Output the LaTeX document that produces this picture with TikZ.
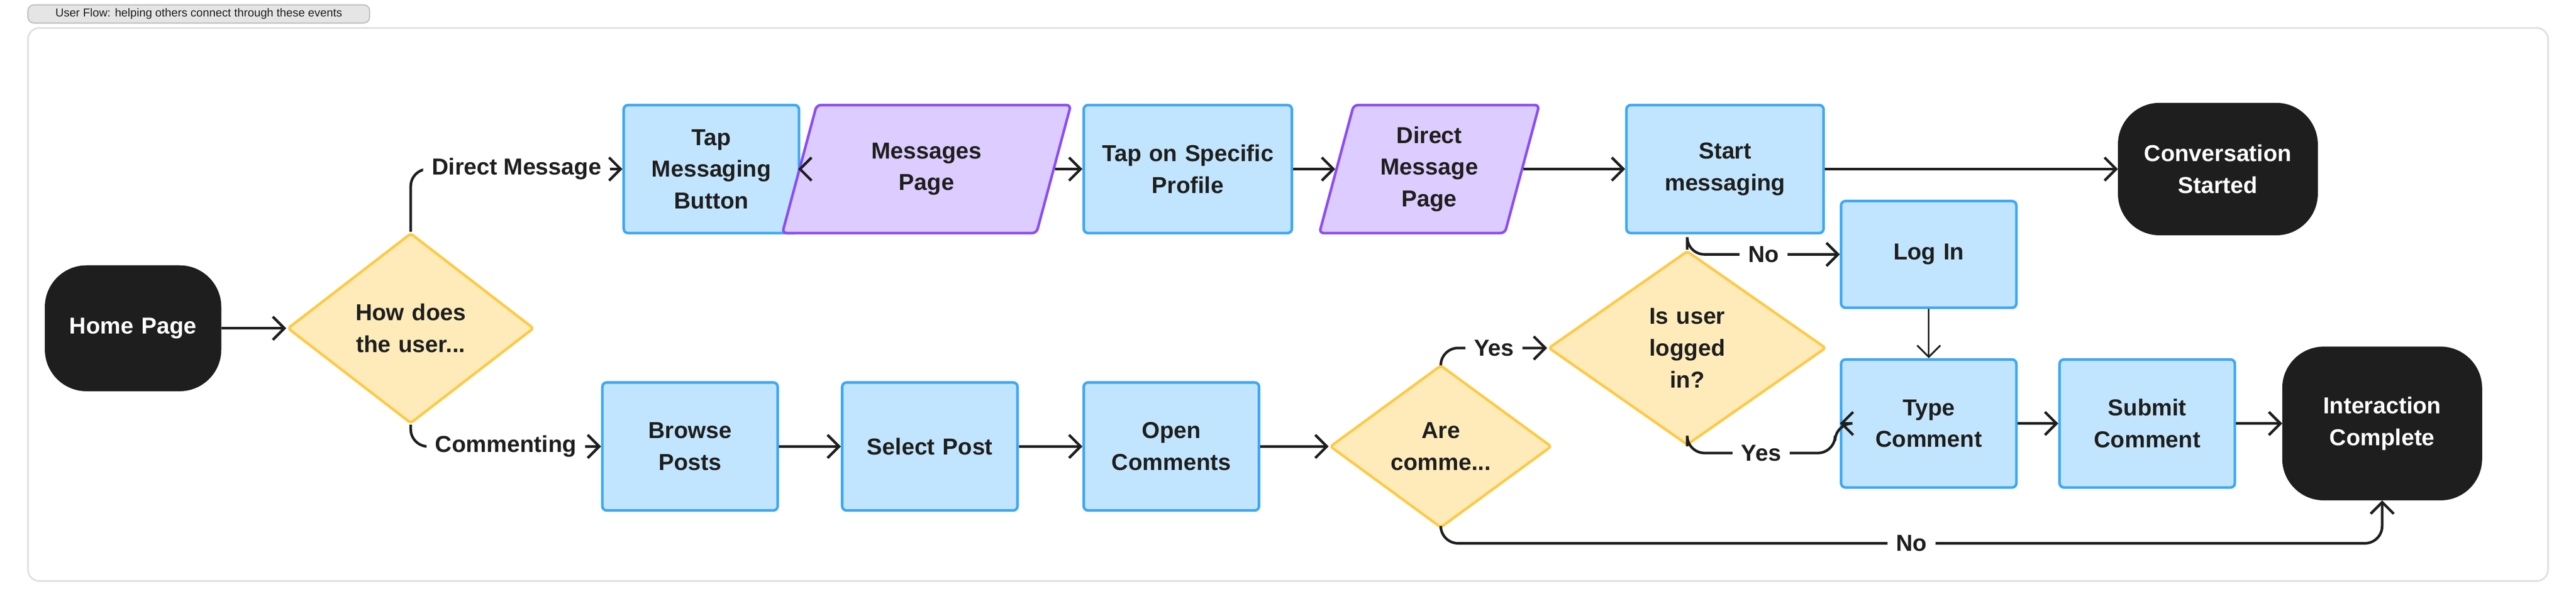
\documentclass[tikz,border=0pt]{standalone}
\usepackage{fontspec}
\setmainfont{Liberation Sans}
\usetikzlibrary{shapes.geometric,arrows.meta}
\definecolor{bfill}{HTML}{C2E5FF}
\definecolor{bdraw}{HTML}{3DA8F5}
\definecolor{pfill}{HTML}{DCCCFF}
\definecolor{pdraw}{HTML}{8A4DF5}
\definecolor{yfill}{HTML}{FFEBBA}
\definecolor{ydraw}{HTML}{FFC943}
\definecolor{dark}{HTML}{1E1E1E}
\begin{document}
\begin{tikzpicture}[x=0.02cm,y=-0.02cm,
  every node/.style={font=\bfseries\fontsize{8}{11}\selectfont, text=dark, align=center},
  box/.style={draw=bdraw, fill=bfill, line width=0.9pt, rounded corners=1.5pt, minimum width=2cm, minimum height=1.56cm, text width=1.9cm},
  para/.style={trapezium, trapezium left angle=75, trapezium right angle=105, draw=pdraw, fill=pfill, line width=0.9pt, rounded corners=1.5pt, minimum width=2.2cm, minimum height=1.56cm, text width=1.5cm, inner xsep=0pt},
  term/.style={fill=dark, draw=dark, text=white, rounded corners=0.5cm, minimum height=1.56cm, text width=2cm, minimum width=2.42cm},
  dia/.style={diamond, draw=ydraw, fill=yfill, line width=0.9pt, rounded corners=1pt, inner sep=0pt, text width=1.4cm},
  arr/.style={draw=dark, line width=0.9pt, rounded corners=6pt, -{Straight Barb[length=4pt,width=8pt]}},
  lab/.style={fill=white, inner sep=3pt}]
\useasboundingbox (0,0) rectangle (1568,372);
\draw[draw=black!12, rounded corners=4pt, line width=0.6pt] (17,17) rectangle (1551,354);
\node[draw=black!25, fill=black!10, rounded corners=2pt, minimum width=4.16cm, minimum height=0.22cm, inner sep=0pt, font=\fontsize{4}{5}\selectfont] (title) at (121,8.5) {User Flow: helping others connect through these events};

\node[term, minimum width=2.06cm, text width=1.9cm, minimum height=1.52cm] (home) at (81,200) {Home Page};
\node[dia, minimum width=3cm, minimum height=2.32cm] (how) at (250,200) {How does\\the user...};

\node[box] (tap) at (433,103) {Tap\\Messaging\\Button};
\node[para] (msgs) at (564,103) {Messages\\Page};
\node[box, minimum width=2.42cm, text width=2.3cm] (prof) at (723,103) {Tap on Specific\\Profile};
\node[para, minimum width=2.1cm] (dmp) at (870,103) {Direct\\Message\\Page};
\node[box, minimum width=2.4cm] (start) at (1050,103) {Start\\messaging};
\node[term, minimum height=1.6cm] (conv) at (1350,103) {Conversation\\Started};

\node[box] (browse) at (420,272) {Browse\\Posts};
\node[box] (select) at (566,272) {Select Post};
\node[box] (open) at (713,272) {Open\\Comments};
\node[dia, minimum width=2.7cm, minimum height=1.9cm] (are) at (877,272) {Are\\comme...};
\node[dia, minimum width=3.38cm, minimum height=2.1cm] (isu) at (1027,212) {Is user\\logged in?};
\node[box, minimum width=1.96cm, minimum height=1.3cm] (login) at (1174,155) {Log In};
\node[box, minimum width=1.96cm] (type) at (1174,258) {Type\\Comment};
\node[box] (submit) at (1307,258) {Submit\\Comment};
\node[term, minimum height=1.86cm] (inter) at (1450,258) {Interaction\\Complete};

\coordinate (ys) at (1117,276);
\coordinate (nb) at (1450,331);

\draw[arr] (home) -- (how);
\draw[arr] (how.north) |- node[lab,pos=.75]{Direct Message} (tap.west);
\draw[arr] (how.south) |- node[lab,pos=.75]{Commenting} (browse.west);
\draw[arr] (tap) -- (msgs);
\draw[arr] (msgs) -- (prof);
\draw[arr] (prof) -- (dmp);
\draw[arr] (dmp) -- (start);
\draw[arr] (start) -- (conv);
\draw[arr] (browse) -- (select);
\draw[arr] (select) -- (open);
\draw[arr] (open) -- (are);
\draw[arr] (are.north) |- node[lab,pos=.75]{Yes} (isu.west);
\draw[arr] (isu.north) |- node[lab,pos=.75]{No} (login.west);
\draw[arr] (isu.south) |- node[lab,pos=.75]{Yes} (ys) |- (type.west);
\draw[arr, line width=0.6pt] (login) -- (type);
\draw[arr] (type) -- (submit);
\draw[arr] (submit) -- (inter);
\draw[arr] (are.south) |- node[lab,pos=.75]{No} (nb) -- (inter.south);
\end{tikzpicture}
\end{document}
